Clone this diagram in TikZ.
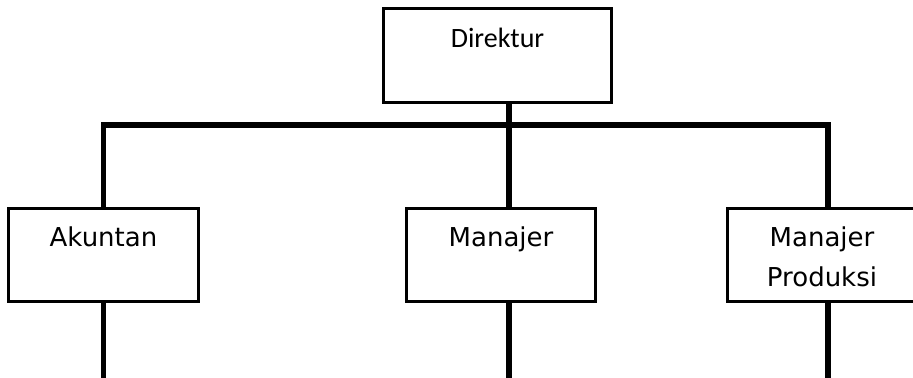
\documentclass[tikz,border=0pt]{standalone}
\usepackage{fontspec}
\setmainfont{DejaVu Sans}
\newfontfamily\dirfont{Carlito}
\usetikzlibrary{positioning}

\begin{document}
\begin{tikzpicture}[x=0.5pt,y=-0.5pt,
  box/.style={draw,line width=1.5pt,minimum height=46.5pt,inner ysep=0pt,
    text height=19.25pt,text depth=27.25pt,align=center,
    font=\fontsize{13}{19.75}\selectfont},
  link/.style={line width=2.75pt,line join=miter}]
\useasboundingbox (0,0) rectangle (913,378);
\node[box,minimum width=114pt,minimum height=47pt,font=\dirfont\fontsize{14}{17}\selectfont] (dir) at (497.5,55.5) {Direktur};
\node[box,minimum width=95pt] (akuntan) at (103.5,255) {Akuntan};
\node[box,minimum width=94.5pt] (manajer) at (501,255) {Manajer};
\node[box,minimum width=94.5pt,text height=39pt,text depth=7.5pt] (produksi) at (822,255) {Manajer\\Produksi};
% garis penghubung
\coordinate (bus) at (0,125);
\coordinate (bawah) at (0,382);
\coordinate (dirfoot) at ([xshift=5.75pt]dir.south);
\coordinate (manhead) at ([xshift=4pt]manajer.north);
\coordinate (manfoot) at ([xshift=4pt]manajer.south);
\coordinate (prodhead) at ([xshift=3pt]produksi.north);
\coordinate (prodfoot) at ([xshift=3pt]produksi.south);
\draw[link] (dirfoot) -- (manhead);
\draw[link] (akuntan.north) |- (prodhead |- bus) -- (prodhead);
\draw[link] (akuntan.south) -- (akuntan.south |- bawah);
\draw[link] (manfoot) -- (manfoot |- bawah);
\draw[link] (prodfoot) -- (prodfoot |- bawah);
\end{tikzpicture}
\end{document}
